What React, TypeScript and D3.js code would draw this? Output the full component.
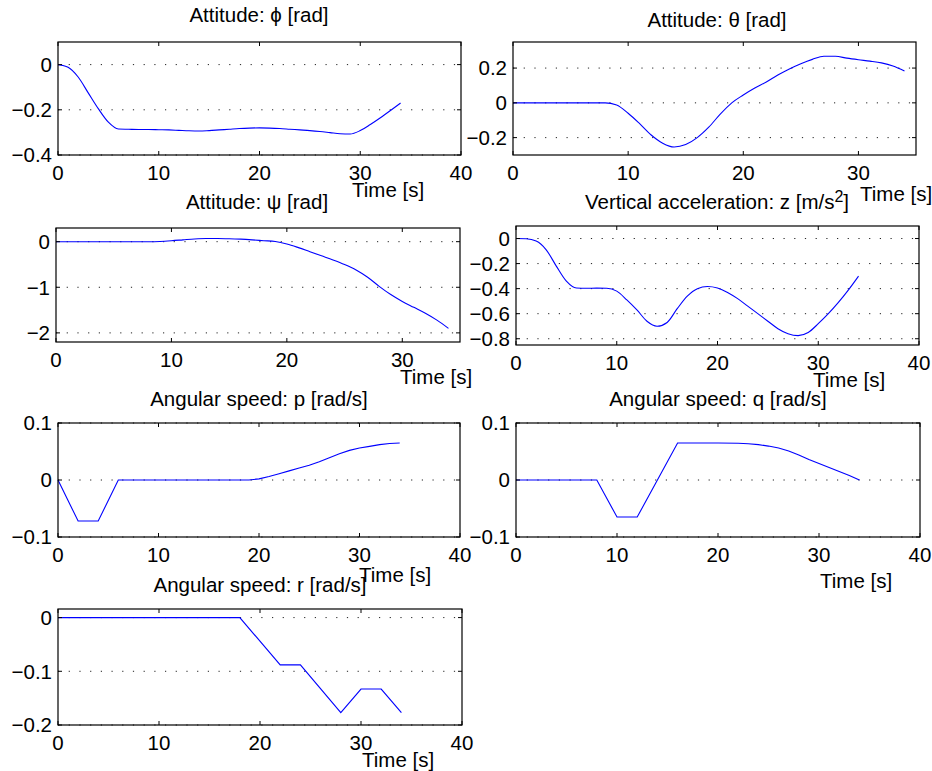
import React from 'react';
import * as d3 from 'd3';

// ---------- data ----------
const T_FULL = [0,1,2,3,4,5,6,7,8,9,10,11,12,13,14,15,16,17,18,19,20,21,22,23,24,25,26,27,28,29,30,31,32,33,34];

const PHI = [0,-0.012,-0.055,-0.125,-0.195,-0.255,-0.285,-0.286,-0.287,-0.287,-0.288,-0.289,-0.291,-0.293,-0.294,-0.292,-0.289,-0.286,-0.283,-0.281,-0.28,-0.281,-0.283,-0.286,-0.289,-0.292,-0.296,-0.301,-0.306,-0.307,-0.292,-0.265,-0.235,-0.203,-0.17];

const THETA = [0,0,0,0,0,0,0,0,0,-0.012,-0.06,-0.12,-0.185,-0.232,-0.254,-0.24,-0.2,-0.14,-0.065,0,0.045,0.085,0.12,0.16,0.195,0.225,0.25,0.268,0.268,0.257,0.248,0.24,0.23,0.212,0.183];

const PSI = [0,0,0,0,0,0,0,0,0,0.005,0.02,0.04,0.06,0.07,0.07,0.065,0.055,0.04,0.022,0.004,-0.05,-0.13,-0.22,-0.31,-0.4,-0.5,-0.62,-0.78,-0.98,-1.16,-1.31,-1.44,-1.57,-1.72,-1.9];

const ZACC = [0,-0.002,-0.02,-0.09,-0.22,-0.34,-0.395,-0.397,-0.396,-0.397,-0.42,-0.49,-0.57,-0.66,-0.7,-0.67,-0.56,-0.46,-0.4,-0.383,-0.395,-0.43,-0.48,-0.54,-0.6,-0.66,-0.72,-0.76,-0.775,-0.75,-0.68,-0.6,-0.51,-0.41,-0.3];

const P_T = [0,2,4,6,19,20,21,22,23,24,25,26,27,28,29,30,31,32,33,34];
const P_RATE = [0,-0.072,-0.072,0,0,0.002,0.006,0.011,0.016,0.021,0.026,0.032,0.039,0.046,0.052,0.056,0.059,0.062,0.064,0.065];

const Q_T = [0,8,10,12,16,20,22,23,24,25,26,27,28,29,30,31,32,33,34];
const Q_RATE = [0,0,-0.065,-0.065,0.065,0.065,0.0645,0.0635,0.062,0.0595,0.056,0.051,0.044,0.036,0.029,0.022,0.015,0.008,0];

const R_T = [0,18,22,24,28,30,32,34];
const R_RATE = [0,0,-0.088,-0.088,-0.177,-0.133,-0.133,-0.177];

const X_TICKS_40 = [0,10,20,30,40];
const X_TICKS_35 = [0,10,20,30];
const Y_TICKS_PHI = [-0.4,-0.2,0];
const Y_TICKS_THETA = [-0.2,0,0.2];
const Y_TICKS_PSI = [-2,-1,0];
const Y_TICKS_Z = [-0.8,-0.6,-0.4,-0.2,0];
const Y_TICKS_RATE = [-0.1,0,0.1];
const Y_TICKS_R = [-0.2,-0.1,0];

const TITLES = [
  'Attitude: \u03d5 [rad]',
  'Attitude: \u03b8 [rad]',
  'Attitude: \u03c8 [rad]',
  'Vertical acceleration: z [m/s',
  'Angular speed: p [rad/s]',
  'Angular speed: q [rad/s]',
  'Angular speed: r [rad/s]',
];
const XLABEL = 'Time [s]';

// ---------- layout ----------
type Panel = {
  box: [number, number, number, number];
  xDom: [number, number];
  yDom: [number, number];
  xTicks: number[];
  yTicks: number[];
  t: number[];
  v: number[];
  smooth: boolean;
  title: string;
  sup?: string;
  titleX: number;
  titleY: number;
  xlab: [number, number];
};

const panels: Panel[] = [
  { box: [58, 461, 42, 155], xDom: [0, 40], yDom: [-0.4, 0.1], xTicks: X_TICKS_40, yTicks: Y_TICKS_PHI, t: T_FULL, v: PHI, smooth: true, title: TITLES[0], titleX: 259, titleY: 22, xlab: [352, 197] },
  { box: [513, 916, 42, 155], xDom: [0, 35], yDom: [-0.3, 0.35], xTicks: X_TICKS_35, yTicks: Y_TICKS_THETA, t: T_FULL, v: THETA, smooth: true, title: TITLES[1], titleX: 717, titleY: 27, xlab: [860, 201] },
  { box: [56, 460, 228, 342], xDom: [0, 35], yDom: [-2.2, 0.3], xTicks: X_TICKS_35, yTicks: Y_TICKS_PSI, t: T_FULL, v: PSI, smooth: true, title: TITLES[2], titleX: 257, titleY: 209, xlab: [400, 384] },
  { box: [516, 919, 226, 345], xDom: [0, 40], yDom: [-0.85, 0.1], xTicks: X_TICKS_40, yTicks: Y_TICKS_Z, t: T_FULL, v: ZACC, smooth: true, title: TITLES[3], sup: '2', titleX: 717, titleY: 209, xlab: [813, 387] },
  { box: [58, 460, 423, 537], xDom: [0, 40], yDom: [-0.1, 0.1], xTicks: X_TICKS_40, yTicks: Y_TICKS_RATE, t: P_T, v: P_RATE, smooth: false, title: TITLES[4], titleX: 259, titleY: 406, xlab: [359, 582] },
  { box: [516, 920, 423, 537], xDom: [0, 40], yDom: [-0.1, 0.1], xTicks: X_TICKS_40, yTicks: Y_TICKS_RATE, t: Q_T, v: Q_RATE, smooth: false, title: TITLES[5], titleX: 718, titleY: 406, xlab: [820, 588] },
  { box: [58, 462, 609, 725], xDom: [0, 40], yDom: [-0.2, 0.016], xTicks: X_TICKS_40, yTicks: Y_TICKS_R, t: R_T, v: R_RATE, smooth: false, title: TITLES[6], titleX: 260, titleY: 592, xlab: [362, 767] },
];

const FONT = '"Liberation Sans", Arial, Helvetica, sans-serif';
const FS = 20.5;
const fmt = d3.format('');

function PanelView({ p }: { p: Panel }) {
  const [x0, x1, y0, y1] = p.box;
  const xs = d3.scaleLinear().domain(p.xDom).range([x0, x1]);
  const ys = d3.scaleLinear().domain(p.yDom).range([y1, y0]);
  const line = d3
    .line<number>()
    .x((_, i) => xs(p.t[i]))
    .y((d) => ys(d))
    .curve(p.smooth ? d3.curveMonotoneX : d3.curveLinear);
  const tl = 4;
  return (
    <g>
      {p.yTicks.map((v) => (
        <line key={'g' + v} x1={x0} x2={x1} y1={ys(v)} y2={ys(v)} stroke="#222" strokeWidth={1} strokeDasharray="1.2,9.5" />
      ))}
      <path d={line(p.v) || ''} fill="none" stroke="#0000ff" strokeWidth={1.1} />
      <rect x={x0} y={y0} width={x1 - x0} height={y1 - y0} fill="none" stroke="#000" strokeWidth={1.2} />
      {p.xTicks.map((v) => (
        <g key={'x' + v}>
          <line x1={xs(v)} x2={xs(v)} y1={y1} y2={y1 - tl} stroke="#000" />
          <line x1={xs(v)} x2={xs(v)} y1={y0} y2={y0 + tl} stroke="#000" />
          <text x={xs(v)} y={y1 + 25} textAnchor="middle" fontSize={FS} fontFamily={FONT}>{fmt(v)}</text>
        </g>
      ))}
      {p.yTicks.map((v) => (
        <g key={'y' + v}>
          <line x1={x0} x2={x0 + tl} y1={ys(v)} y2={ys(v)} stroke="#000" />
          <line x1={x1} x2={x1 - tl} y1={ys(v)} y2={ys(v)} stroke="#000" />
          <text x={x0 - 6} y={ys(v)} dy="0.36em" textAnchor="end" fontSize={FS} fontFamily={FONT}>{fmt(v)}</text>
        </g>
      ))}
      <text x={p.titleX} y={p.titleY} textAnchor="middle" fontSize={FS} fontFamily={FONT}>
        {p.title}
        {p.sup ? (
          <>
            <tspan fontSize={16} dy={-7}>{p.sup}</tspan>
            <tspan dy={7}>]</tspan>
          </>
        ) : null}
      </text>
      <text x={p.xlab[0]} y={p.xlab[1]} fontSize={FS} fontFamily={FONT}>{XLABEL}</text>
    </g>
  );
}

export default function App() {
  return (
    <svg width={932} height={771} style={{ position: 'absolute', left: 0, top: 0, background: '#fff' }}>
      <rect x={0} y={0} width={932} height={771} fill="#fff" />
      {panels.map((p, i) => (
        <PanelView key={i} p={p} />
      ))}
    </svg>
  );
}
